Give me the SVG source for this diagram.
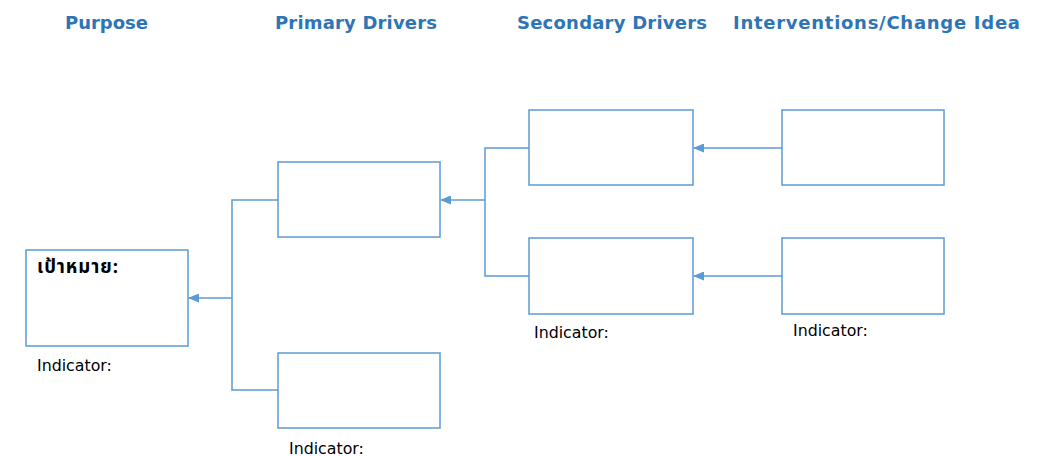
<svg xmlns="http://www.w3.org/2000/svg" width="1037" height="456" viewBox="0 0 1037 456">
<style>
.box{fill:#fff;stroke:#5B9BD5;stroke-width:1.5}
.ln{fill:none;stroke:#5B9BD5;stroke-width:1.5}
.hd{font-family:"DejaVu Sans",Verdana,sans-serif;font-weight:bold;font-size:18px;fill:#2E75B6}
.ind{font-family:"DejaVu Sans",Tahoma,sans-serif;font-size:15.8px;fill:#000}
.th{font-family:"Noto Sans Thai",Tahoma,"DejaVu Sans",sans-serif;font-weight:bold;font-size:18.5px;fill:#000}
</style>
<defs>
<marker id="ah" markerWidth="11" markerHeight="9" refX="10" refY="4.5" orient="auto" markerUnits="userSpaceOnUse">
<path d="M0,0 L11,4.5 L0,9 Z" fill="#5B9BD5"/>
</marker>
</defs>
<rect width="1037" height="456" fill="#fff"/>
<g id="headers">
<text class="hd" x="65" y="29" textLength="83">Purpose</text>
<text class="hd" x="275" y="29" textLength="162">Primary Drivers</text>
<text class="hd" x="517" y="29" textLength="190">Secondary Drivers</text>
<text class="hd" x="733" y="29" textLength="287">Interventions/Change Idea</text>
</g>
<g id="connectors">
<path class="ln" d="M278,200 H232 V390 H278"/>
<path class="ln" d="M232,298 H189" marker-end="url(#ah)"/>
<path class="ln" d="M529,148 H485 V276 H529"/>
<path class="ln" d="M485,200 H441" marker-end="url(#ah)"/>
<path class="ln" d="M782,148 H694" marker-end="url(#ah)"/>
<path class="ln" d="M782,276 H694" marker-end="url(#ah)"/>
</g>
<g id="purpose">
<rect class="box" x="26" y="250" width="162" height="96"/>
<text class="th" x="37" y="273" textLength="81">เป้าหมาย:</text>
<text class="ind" x="37" y="371">Indicator:</text>
</g>
<g id="primary1">
<rect class="box" x="278" y="162" width="162" height="75"/>
</g>
<g id="primary2">
<rect class="box" x="278" y="353" width="162" height="75"/>
<text class="ind" x="289" y="454">Indicator:</text>
</g>
<g id="secondary1">
<rect class="box" x="529" y="110" width="164" height="75"/>
</g>
<g id="secondary2">
<rect class="box" x="529" y="238" width="164" height="76"/>
<text class="ind" x="534" y="338">Indicator:</text>
</g>
<g id="intervention1">
<rect class="box" x="782" y="110" width="162" height="75"/>
</g>
<g id="intervention2">
<rect class="box" x="782" y="238" width="162" height="76"/>
<text class="ind" x="793" y="336">Indicator:</text>
</g>
</svg>
